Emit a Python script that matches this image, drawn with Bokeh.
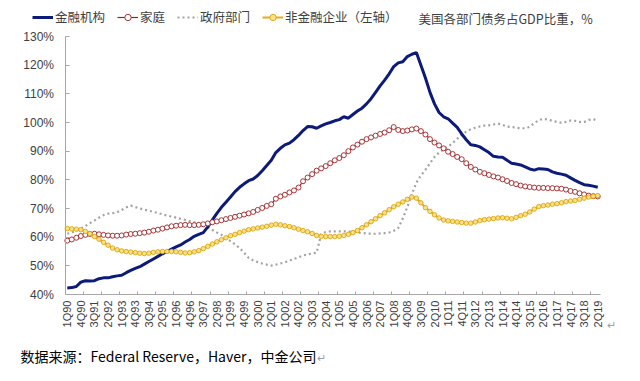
import math
from bokeh.plotting import figure
from bokeh.models import Range1d, FixedTicker, PrintfTickFormatter, Legend, LegendItem, Label
from bokeh.embed import file_html
from bokeh.resources import INLINE

# Quarterly data 1Q90 .. 2Q19 (118 quarters), % of GDP
quarter_index = list(range(118))

financial = [
    42.3, 42.4, 42.8, 44.3, 44.8, 44.7, 44.8, 45.5, 45.8, 45.8,
    46.2, 46.5, 46.7, 47.6, 48.4, 49.1, 49.7, 50.6, 51.5, 52.4,
    53.3, 54.2, 55.0, 55.8, 56.6, 57.3, 58.3, 59.2, 60.3, 61.0,
    61.6, 63.6, 66.0, 68.3, 70.4, 72.2, 74.0, 75.9, 77.4, 78.6,
    79.7, 80.3, 81.5, 83.2, 85.0, 86.8, 89.5, 91.0, 92.2, 92.8,
    94.0, 95.5, 97.2, 98.6, 98.5, 98.0, 98.8, 99.5, 100.0, 100.6,
    101.0, 102.0, 101.5, 102.8, 104.0, 105.0, 106.5, 108.3, 110.5, 112.8,
    114.8, 117.0, 119.5, 120.8, 121.2, 123.0, 123.8, 124.4, 120.0, 115.5,
    110.5, 106.5, 103.5, 102.0, 101.3, 99.8, 98.3, 96.0, 94.0, 92.2,
    92.0, 91.5, 90.5, 89.5, 88.2, 88.0, 87.9, 86.8, 85.8, 85.5,
    85.2, 84.5, 83.8, 83.4, 83.9, 83.8, 83.6, 82.8, 82.3, 82.0,
    81.6, 80.7, 79.8, 79.0, 78.3, 78.1, 77.8, 77.4,
]

household = [
    58.8, 59.2, 59.8, 60.4, 60.8, 61.1, 61.2, 61.0, 60.8, 60.6,
    60.5, 60.5, 60.6, 60.9, 61.1, 61.2, 61.4, 61.6, 61.9, 62.3,
    62.6, 63.0, 63.4, 63.8, 64.0, 64.2, 64.3, 64.2, 64.2, 64.3,
    64.5, 64.8, 65.2, 65.5, 65.9, 66.3, 66.7, 67.1, 67.5, 67.9,
    68.3, 68.8, 69.5, 70.2, 70.9, 71.5, 73.4, 74.2, 74.8, 75.6,
    76.3, 77.3, 79.5, 80.8, 82.0, 83.2, 84.0, 84.8, 85.8, 86.8,
    87.6, 88.6, 90.0, 91.3, 92.3, 93.3, 94.2, 94.8, 95.4, 96.0,
    96.5, 97.3, 98.4, 97.4, 97.0, 97.2, 97.6, 97.9, 97.0, 95.8,
    94.2, 93.0, 92.0, 91.0, 89.8, 89.0, 88.0, 87.2, 85.8, 84.5,
    83.6, 82.8, 82.3, 81.7, 81.2, 80.8, 80.2, 79.6, 78.9, 78.5,
    78.0, 77.7, 77.5, 77.3, 77.2, 77.2, 77.1, 77.1, 77.0, 76.9,
    76.6, 76.1, 75.8, 75.3, 74.9, 74.5, 74.3, 74.2,
]

government = [
    61.2, 61.6, 62.3, 63.0, 63.9, 64.9, 65.8, 66.8, 67.7, 68.2,
    68.4, 68.7, 69.5, 70.4, 71.0, 70.5, 70.0, 69.6, 69.2, 68.8,
    68.4, 68.0, 67.5, 67.2, 66.8, 66.4, 66.0, 65.6, 65.2, 64.6,
    64.0, 63.4, 62.5, 61.6, 60.8, 59.8, 58.6, 57.5, 56.2, 54.6,
    52.8, 51.9, 51.3, 50.8, 50.4, 50.1, 50.4, 50.8, 51.2, 51.8,
    52.4, 53.0, 53.6, 54.0, 54.3, 54.6, 61.0, 61.8, 62.0, 62.0,
    62.0, 62.0, 62.0, 61.8, 61.6, 61.5, 61.3, 61.2, 61.2, 61.3,
    61.4, 61.6, 62.2, 63.2, 66.5, 70.5, 75.0, 79.0, 81.5, 83.5,
    85.8, 88.0, 89.5, 90.6, 91.5, 92.8, 94.3, 95.8, 96.8, 97.6,
    98.2, 98.6, 98.9, 99.0, 99.3, 99.6, 99.2, 98.6, 98.4, 98.2,
    98.0, 98.0, 98.5, 99.8, 100.8, 101.3, 101.0, 100.6, 100.2, 99.9,
    100.2, 100.7, 100.6, 100.2, 100.2, 100.9, 101.2, 100.6,
]

nonfin_corp = [
    63.0, 62.9, 62.8, 62.6, 62.0, 61.2, 60.2, 59.3, 58.2, 57.2,
    56.2, 55.6, 55.2, 55.0, 54.8, 54.6, 54.4, 54.3, 54.4, 54.7,
    54.9, 55.0, 55.0, 55.0, 54.9, 54.7, 54.5, 54.6, 54.9, 55.3,
    56.0, 56.8, 57.6, 58.4, 59.1, 59.8, 60.5, 61.0, 61.6, 62.1,
    62.6, 62.9, 63.2, 63.5, 63.8, 64.2, 64.5, 64.3, 64.0, 63.7,
    63.3, 62.8, 62.3, 61.9, 61.3, 60.6, 60.3, 60.2, 60.2, 60.2,
    60.3, 60.6, 61.0, 61.6, 62.3, 63.3, 64.3, 65.4, 66.4, 67.5,
    68.5, 69.6, 70.6, 71.5, 72.3, 73.2, 74.0, 73.6, 72.0, 70.3,
    69.0, 67.8, 66.7, 66.0, 65.7, 65.5, 65.3, 65.1, 64.9, 64.9,
    65.3, 65.8, 66.1, 66.3, 66.5, 66.7, 66.8, 66.6, 66.4, 66.9,
    67.5, 68.0, 68.8, 69.8, 70.7, 71.0, 71.2, 71.5, 71.7, 72.0,
    72.4, 72.6, 72.8, 73.2, 73.6, 74.0, 74.3, 74.5,
]

tick_positions = list(range(0, 118, 3))
tick_labels = [
    "1Q90", "4Q90", "3Q91", "2Q92", "1Q93", "4Q93", "3Q94", "2Q95", "1Q96", "4Q96",
    "3Q97", "2Q98", "1Q99", "4Q99", "3Q00", "2Q01", "1Q02", "4Q02", "3Q03", "2Q04",
    "1Q05", "4Q05", "3Q06", "2Q07", "1Q08", "4Q08", "3Q09", "2Q10", "1Q11", "4Q11",
    "3Q12", "2Q13", "1Q14", "4Q14", "3Q15", "2Q16", "1Q17", "4Q17", "3Q18", "2Q19",
]
year_boundaries = [3.5 + 4 * k for k in range(29)]
y_ticks = [40, 50, 60, 70, 80, 90, 100, 110, 120, 130]

series_names = ["金融机构", "家庭", "政府部门", "非金融企业（左轴）"]
chart_title = "美国各部门债务占GDP比重，%"
source_note = "数据来源：Federal Reserve，Haver，中金公司"

NAVY = "#0c1a7a"
RED = "#9e1f23"
GRAY = "#a3a3a3"
GOLD = "#e7ad12"
GOLD_EDGE = "#d9a000"
GOLD_FILL = "#f8e08a"
TXT = "#404040"
CJK = "Noto Sans CJK SC"

# ---- page geometry (pixels): the plotting area of the original chart ----
W, H = 640, 381
AX_L, AX_R, AX_T, AX_B = 64.5, 599.5, 36.0, 294.0
XMIN, XMAX, YMIN, YMAX = -0.5, 117.5, 40, 130
xs = (XMAX - XMIN) / (AX_R - AX_L)
ys = (YMAX - YMIN) / (AX_B - AX_T)
x_range = Range1d(XMIN - AX_L * xs, XMAX + (W - AX_R) * xs)
y_range = Range1d(YMIN - (H - AX_B) * ys, YMAX + AX_T * ys)

p = figure(width=W, height=H, output_backend="svg", toolbar_location=None,
           x_range=x_range, y_range=y_range, min_border=0)
p.outline_line_color = None
p.grid.visible = False

r_gov = p.line(quarter_index, government, line_color=GRAY, line_width=2.2, line_dash="2 3")
r_fin = p.line(quarter_index, financial, line_color=NAVY, line_width=3)
r_hh_l = p.line(quarter_index, household, line_color=RED, line_width=1.2)
r_hh_m = p.scatter(quarter_index, household, marker="circle", size=5,
                   line_color=RED, fill_color="white", line_width=0.9)
r_nf_l = p.line(quarter_index, nonfin_corp, line_color=GOLD, line_width=2)
r_nf_m = p.scatter(quarter_index, nonfin_corp, marker="circle", size=4.5,
                   line_color=GOLD_EDGE, fill_color=GOLD_FILL, line_width=0.8)

xa = p.xaxis[0]
xa.fixed_location = YMIN
xa.bounds = (XMIN, XMAX)
xa.ticker = FixedTicker(ticks=tick_positions, minor_ticks=year_boundaries)
xa.major_label_overrides = {pos: lab for pos, lab in zip(tick_positions, tick_labels)}
xa.major_label_orientation = math.pi / 2
xa.major_tick_in = 0
xa.major_tick_out = 0
xa.minor_tick_in = 3
xa.minor_tick_out = 0
xa.minor_tick_line_color = "#a6a6a6"
xa.axis_line_color = "#a6a6a6"
xa.major_label_text_font = "Liberation Sans"
xa.major_label_text_font_size = "11px"
xa.major_label_text_color = TXT
xa.major_label_standoff = 6

ya = p.yaxis[0]
ya.fixed_location = XMIN
ya.bounds = (YMIN, YMAX)
ya.ticker = FixedTicker(ticks=y_ticks, minor_ticks=[])
ya.formatter = PrintfTickFormatter(format="%d%%")
ya.major_tick_in = 4
ya.major_tick_out = 0
ya.major_tick_line_color = "#a6a6a6"
ya.axis_line_color = "#a6a6a6"
ya.major_label_text_font = "Liberation Sans"
ya.major_label_text_font_size = "12px"
ya.major_label_text_color = TXT
ya.major_label_standoff = 11

legend = Legend(items=[
    LegendItem(label=series_names[0], renderers=[r_fin]),
    LegendItem(label=series_names[1], renderers=[r_hh_l, r_hh_m]),
    LegendItem(label=series_names[2], renderers=[r_gov]),
    LegendItem(label=series_names[3], renderers=[r_nf_l, r_nf_m]),
], orientation="horizontal", location=(32, H - 18 - 8))
legend.border_line_color = None
legend.background_fill_alpha = 0
legend.padding = 0
legend.margin = 0
legend.spacing = 12
legend.glyph_width = 21
legend.glyph_height = 16
legend.label_height = 16
legend.label_standoff = 2
legend.label_text_font = CJK
legend.label_text_font_size = "12.5px"
legend.label_text_color = TXT
p.add_layout(legend)

p.add_layout(Label(x=418, y=H - 18, x_units="screen", y_units="screen", text=chart_title,
                   text_font=CJK, text_font_size="12.5px", text_baseline="middle",
                   text_color=TXT))
p.add_layout(Label(x=20, y=H - 355, x_units="screen", y_units="screen", text=source_note,
                   text_font=CJK, text_font_size="14px", text_baseline="middle",
                   text_color="#000000"))
p.add_layout(Label(x=316, y=H - 356, x_units="screen", y_units="screen", text="↵",
                   text_font=CJK, text_font_size="11px", text_baseline="middle",
                   text_color="#a0a0a0"))
p.add_layout(Label(x=606, y=H - 323, x_units="screen", y_units="screen", text="↵",
                   text_font=CJK, text_font_size="11px", text_baseline="middle",
                   text_color="#a0a0a0"))

open("out.html", "w").write(file_html(p, INLINE))
